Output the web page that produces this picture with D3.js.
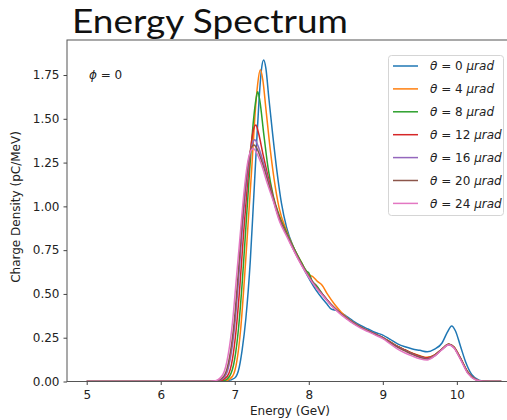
<!DOCTYPE html>
<html>
<head>
<meta charset="utf-8">
<script src="https://cdn.jsdelivr.net/npm/d3@7"></script>
<style>
  body { margin: 0; background: #fff; }
  svg { display: block; }
  .tick text { font-family: "DejaVu Sans", sans-serif; font-size: 12px; fill: #222; }
  .label { font-family: "DejaVu Sans", sans-serif; font-size: 12px; fill: #222; }
</style>
</head>
<body>
<div id="chart"></div>
<script>
(function() {

  // series labels (theta in microradians) and matplotlib tab10 colours
  var thetas = [0, 4, 8, 12, 16, 20, 24];
  var colors = ["#1f77b4", "#ff7f0e", "#2ca02c", "#d62728", "#9467bd", "#8c564b", "#e377c2"];
  var xTicks = [5, 6, 7, 8, 9, 10];
  var yTicks = [0, 0.25, 0.5, 0.75, 1.0, 1.25, 1.5, 1.75];

  // [energy GeV, charge density pC/MeV]
  var theta0 = [[5.0,0],[6.6,0],[6.9,0.005],[7.0,0.02],[7.06,0.08],[7.1,0.18],[7.15,0.36],[7.21,0.69],
    [7.25,1.0],[7.29,1.32],[7.33,1.62],[7.36,1.78],[7.39,1.836],[7.42,1.79],[7.46,1.62],[7.51,1.42],
    [7.57,1.2],[7.63,1.02],[7.7,0.88],[7.8,0.76],[7.9,0.67],[8.0,0.59],[8.1,0.52],[8.2,0.465],[8.25,0.44],
    [8.3,0.415],[8.38,0.405],[8.5,0.375],[8.6,0.345],[8.7,0.32],[8.8,0.3],[8.9,0.28],[9.0,0.265],[9.1,0.24],
    [9.2,0.215],[9.3,0.198],[9.4,0.186],[9.5,0.178],[9.6,0.17],[9.7,0.185],[9.8,0.22],[9.87,0.28],
    [9.93,0.317],[9.98,0.29],[10.05,0.2],[10.12,0.11],[10.2,0.04],[10.3,0.008],[10.4,0],[10.6,0]];
  var theta4 = [[5.0,0],[6.6,0],[6.88,0.005],[6.97,0.03],[7.03,0.12],[7.08,0.3],[7.13,0.58],[7.18,0.9],
    [7.23,1.22],[7.27,1.5],[7.31,1.7],[7.345,1.78],[7.38,1.72],[7.42,1.56],[7.47,1.36],[7.53,1.16],
    [7.6,0.99],[7.7,0.86],[7.8,0.76],[7.9,0.68],[8.0,0.61],[8.05,0.6],[8.12,0.57],[8.18,0.55],[8.25,0.5],
    [8.35,0.44],[8.5,0.37],[8.6,0.338],[8.7,0.312],[8.8,0.29],[8.9,0.27],[9.0,0.25],[9.1,0.226],[9.2,0.2],
    [9.3,0.18],[9.4,0.162],[9.5,0.147],[9.6,0.138],[9.7,0.152],[9.8,0.185],[9.89,0.212],[9.96,0.198],
    [10.05,0.135],[10.15,0.055],[10.25,0.014],[10.35,0.002],[10.6,0]];
  var theta8 = [[5.0,0],[6.6,0],[6.85,0.005],[6.93,0.03],[7.0,0.13],[7.05,0.3],[7.1,0.56],[7.15,0.88],
    [7.2,1.2],[7.25,1.48],[7.29,1.62],[7.31,1.655],[7.34,1.6],[7.39,1.42],[7.45,1.22],[7.52,1.06],
    [7.6,0.95],[7.7,0.85],[7.8,0.76],[7.9,0.68],[7.97,0.63],[8.0,0.62],[8.05,0.57],[8.1,0.55],[8.2,0.49],
    [8.3,0.44],[8.4,0.4],[8.5,0.365],[8.6,0.335],[8.7,0.31],[8.8,0.29],[8.9,0.27],[9.0,0.25],[9.1,0.225],
    [9.2,0.2],[9.3,0.18],[9.4,0.16],[9.5,0.145],[9.6,0.135],[9.7,0.15],[9.8,0.185],[9.89,0.212],
    [9.96,0.196],[10.05,0.13],[10.15,0.05],[10.25,0.012],[10.35,0.002],[10.6,0]];
  var theta12 = [[5.0,0],[6.6,0],[6.8,0.005],[6.9,0.03],[6.97,0.13],[7.02,0.3],[7.07,0.55],[7.12,0.85],
    [7.17,1.12],[7.22,1.35],[7.26,1.45],[7.285,1.465],[7.32,1.42],[7.38,1.3],[7.45,1.17],[7.52,1.05],
    [7.6,0.94],[7.7,0.84],[7.8,0.75],[7.9,0.67],[8.0,0.6],[8.1,0.54],[8.2,0.49],[8.3,0.44],[8.4,0.4],
    [8.5,0.365],[8.6,0.335],[8.7,0.31],[8.8,0.29],[8.9,0.27],[9.0,0.25],[9.1,0.225],[9.2,0.2],[9.3,0.18],
    [9.4,0.16],[9.5,0.145],[9.6,0.135],[9.7,0.15],[9.8,0.185],[9.89,0.212],[9.96,0.195],[10.05,0.13],
    [10.15,0.05],[10.25,0.012],[10.35,0.002],[10.6,0]];
  var theta16 = [[5.0,0],[6.6,0],[6.77,0.005],[6.87,0.03],[6.94,0.13],[7.0,0.32],[7.05,0.57],[7.1,0.86],
    [7.15,1.1],[7.2,1.28],[7.24,1.36],[7.27,1.38],[7.31,1.35],[7.38,1.26],[7.45,1.15],[7.52,1.04],
    [7.6,0.93],[7.7,0.84],[7.8,0.75],[7.9,0.67],[8.0,0.6],[8.1,0.54],[8.2,0.49],[8.3,0.44],[8.4,0.4],
    [8.5,0.365],[8.6,0.335],[8.7,0.31],[8.8,0.29],[8.9,0.27],[9.0,0.25],[9.1,0.222],[9.2,0.197],[9.3,0.176],
    [9.4,0.156],[9.5,0.14],[9.6,0.13],[9.7,0.147],[9.8,0.183],[9.89,0.21],[9.96,0.194],[10.05,0.13],
    [10.15,0.05],[10.25,0.012],[10.35,0.002],[10.6,0]];
  var theta20 = [[5.0,0],[6.6,0],[6.76,0.005],[6.86,0.035],[6.93,0.14],[6.99,0.33],[7.04,0.58],[7.09,0.86],
    [7.14,1.1],[7.19,1.27],[7.23,1.34],[7.26,1.35],[7.3,1.33],[7.37,1.25],[7.45,1.14],[7.52,1.04],
    [7.6,0.93],[7.7,0.84],[7.8,0.75],[7.9,0.67],[8.0,0.6],[8.1,0.54],[8.2,0.49],[8.3,0.44],[8.4,0.4],
    [8.5,0.365],[8.6,0.335],[8.7,0.31],[8.8,0.29],[8.9,0.27],[9.0,0.25],[9.1,0.222],[9.2,0.196],[9.3,0.175],
    [9.4,0.155],[9.5,0.138],[9.6,0.128],[9.7,0.148],[9.8,0.185],[9.89,0.213],[9.96,0.197],[10.05,0.13],
    [10.15,0.05],[10.25,0.012],[10.35,0.002],[10.6,0]];
  var theta24 = [[5.0,0],[6.6,0],[6.74,0.005],[6.84,0.04],[6.91,0.15],[6.97,0.34],[7.02,0.58],[7.07,0.82],
    [7.12,1.06],[7.17,1.24],[7.21,1.31],[7.25,1.33],[7.29,1.31],[7.36,1.24],[7.44,1.13],[7.52,1.03],
    [7.6,0.92],[7.7,0.83],[7.8,0.745],[7.9,0.665],[8.0,0.595],[8.1,0.535],[8.2,0.485],[8.3,0.435],
    [8.4,0.395],[8.5,0.36],[8.6,0.33],[8.7,0.305],[8.8,0.285],[8.9,0.265],[9.0,0.245],[9.1,0.215],
    [9.2,0.185],[9.3,0.163],[9.4,0.145],[9.5,0.13],[9.6,0.123],[9.7,0.145],[9.8,0.182],[9.89,0.21],
    [9.96,0.192],[10.05,0.125],[10.15,0.045],[10.25,0.01],[10.35,0.002],[10.6,0]];
  var series = [theta0, theta4, theta8, theta12, theta16, theta20, theta24];

  var width = 507, height = 420;
  var plot = { left: 67, top: 40, right: 522, bottom: 381.5 };

  var svg = d3.select("#chart").append("svg")
    .attr("width", width)
    .attr("height", height);

  svg.append("text")
    .attr("x", 72)
    .attr("y", 33)
    .attr("font-family", "Lato, sans-serif")
    .attr("font-size", 32)
    .attr("fill", "#111")
    .attr("textLength", 276)
    .attr("lengthAdjust", "spacingAndGlyphs")
    .text("Energy Spectrum");

  var x = d3.scaleLinear().domain([4.734, 10.88]).range([plot.left, plot.right]);
  var y = d3.scaleLinear().domain([0, 1.95]).range([plot.bottom, plot.top]);

  svg.append("clipPath").attr("id", "clip")
    .append("rect")
    .attr("x", plot.left).attr("y", plot.top)
    .attr("width", plot.right - plot.left)
    .attr("height", plot.bottom - plot.top);

  var line = d3.line()
    .x(function(d) { return x(d[0]); })
    .y(function(d) { return y(d[1]); })
    .curve(d3.curveMonotoneX);

  svg.append("g")
    .attr("clip-path", "url(#clip)")
    .selectAll("path")
    .data(series)
    .enter().append("path")
    .attr("d", line)
    .attr("fill", "none")
    .attr("stroke", function(d, i) { return colors[i]; })
    .attr("stroke-width", 1.5)
    .attr("stroke-linejoin", "round");

  // frame
  svg.append("rect")
    .attr("x", plot.left).attr("y", plot.top)
    .attr("width", plot.right - plot.left)
    .attr("height", plot.bottom - plot.top)
    .attr("fill", "none")
    .attr("stroke", "#555")
    .attr("stroke-width", 1);

  var xAxis = svg.append("g")
    .attr("transform", "translate(0," + plot.bottom + ")")
    .call(d3.axisBottom(x).tickValues(xTicks).tickSize(3.5).tickPadding(5).tickFormat(d3.format("d")));
  var yAxis = svg.append("g")
    .attr("transform", "translate(" + plot.left + ",0)")
    .call(d3.axisLeft(y).tickValues(yTicks).tickSize(3.5).tickPadding(4).tickFormat(d3.format(".2f")));
  [xAxis, yAxis].forEach(function(a) {
    a.select(".domain").remove();
    a.selectAll(".tick line").attr("stroke", "#444");
  });

  svg.append("text")
    .attr("class", "label")
    .attr("x", 290)
    .attr("y", 415)
    .attr("text-anchor", "middle")
    .text("Energy (GeV)");

  svg.append("text")
    .attr("class", "label")
    .attr("transform", "translate(20," + 207 + ") rotate(-90)")
    .attr("text-anchor", "middle")
    .text("Charge Density (pC/MeV)");

  var phi = svg.append("text")
    .attr("class", "label")
    .attr("x", 89)
    .attr("y", 79);
  phi.append("tspan").attr("font-style", "italic").text("\u03d5");
  phi.append("tspan").text(" = 0");

  // legend
  var legend = svg.append("g");
  legend.append("rect")
    .attr("x", 388.5).attr("y", 55.5)
    .attr("width", 115).attr("height", 160)
    .attr("rx", 3)
    .attr("fill", "#fff")
    .attr("fill-opacity", 0.8)
    .attr("stroke", "#d5d5d5");
  var items = legend.selectAll("g.item")
    .data(thetas)
    .enter().append("g")
    .attr("class", "item")
    .attr("transform", function(d, i) { return "translate(0," + (66 + i * 22.9) + ")"; });
  items.append("line")
    .attr("x1", 393).attr("x2", 418)
    .attr("stroke", function(d, i) { return colors[i]; })
    .attr("stroke-width", 1.5);
  var txt = items.append("text")
    .attr("class", "label")
    .attr("x", 430)
    .attr("dy", "0.35em");
  txt.append("tspan").attr("font-style", "italic").text("\u03b8");
  txt.append("tspan").text(function(d) { return " = " + d + " "; });
  txt.append("tspan").attr("font-style", "italic").text("\u03bcrad");

})();
</script>
</body>
</html>
